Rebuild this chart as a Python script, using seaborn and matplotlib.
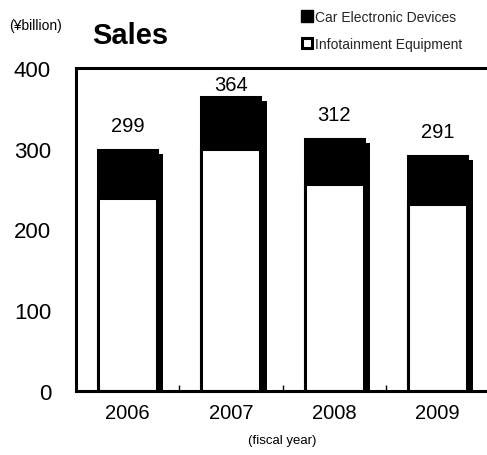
import matplotlib
matplotlib.use("Agg")
import matplotlib.pyplot as plt
import matplotlib.patheffects as pe
from matplotlib.lines import Line2D
from matplotlib.ticker import FixedLocator
import seaborn as sns
import pandas as pd

years = ["2006", "2007", "2008", "2009"]
totals = [299, 364, 312, 291]          # Car Electronic Devices + Infotainment
infotainment = [239, 300, 256, 232]    # white lower segment
yticks = [0, 100, 200, 300, 400]

sns.set_theme(style="white")
plt.rcParams["font.family"] = ["Liberation Sans", "DejaVu Sans"]

df = pd.DataFrame({"year": years, "total": totals, "info": infotainment})

fig = plt.figure(figsize=(4.87, 4.56), dpi=100)
W, H = 487, 456
ax = fig.add_axes([76 / W, 1 - 392 / H, (489 - 76) / W, (392 - 69) / H])

sns.barplot(data=df, x="year", y="total", color="black", edgecolor="black",
            linewidth=2.2, width=0.57, ax=ax, saturation=1)
n_black = len(ax.patches)
sns.barplot(data=df, x="year", y="info", color="white", edgecolor="black",
            linewidth=2.2, width=0.57, ax=ax, saturation=1)

for p in ax.patches[:n_black]:
    p.set_path_effects([pe.SimplePatchShadow(offset=(4.5, -3), shadow_rgbFace="black", alpha=1),
                        pe.Normal()])

ax.set_xlim(-0.5, 3.5)
ax.set_ylim(0, 400)
ax.set_yticks(yticks)
ax.set_xlabel("")
ax.set_ylabel("")

for i, v in enumerate(totals):
    ax.annotate(str(v), (i, min(v + 18.5, 368)), ha="center", va="bottom",
                fontsize=14.5, color="black")

for s in ["left", "top", "bottom"]:
    ax.spines[s].set_visible(True)
    ax.spines[s].set_linewidth(2.2)
    ax.spines[s].set_color("black")
ax.spines["right"].set_visible(False)

ax.tick_params(axis="y", length=0, pad=18, labelsize=16, colors="black")
ax.tick_params(axis="x", length=0, pad=9, labelsize=14.5, colors="black")
ax.xaxis.set_minor_locator(FixedLocator([0.5, 1.5, 2.5]))
ax.tick_params(axis="x", which="minor", direction="in", length=4, width=1, color="black", bottom=True)

fig.text(35 / W, 1 - 26 / H, "(¥billion)", ha="center", va="center", fontsize=10, color="black")
fig.text(92 / W, 1 - 36 / H, "Sales", ha="left", va="center", fontsize=21,
         fontweight="bold", color="black")
fig.text(282 / W, 1 - 441 / H, "(fiscal year)", ha="center", va="center", fontsize=9.5, color="black")

handles = [
    Line2D([], [], marker="s", linestyle="none", markersize=8, markerfacecolor="black",
           markeredgecolor="black", label="Car Electronic Devices"),
    Line2D([], [], marker="s", linestyle="none", markersize=7, markerfacecolor="white",
           markeredgecolor="black", markeredgewidth=2.2, label="Infotainment Equipment"),
]
fig.legend(handles=handles, loc="upper left", bbox_to_anchor=(300 / W, 1 - 8 / H),
           frameon=False, fontsize=10, handlelength=0.6, handletextpad=0.3,
           labelspacing=0.95, borderaxespad=0, borderpad=0.2)

fig.savefig("out.png", dpi=100)
